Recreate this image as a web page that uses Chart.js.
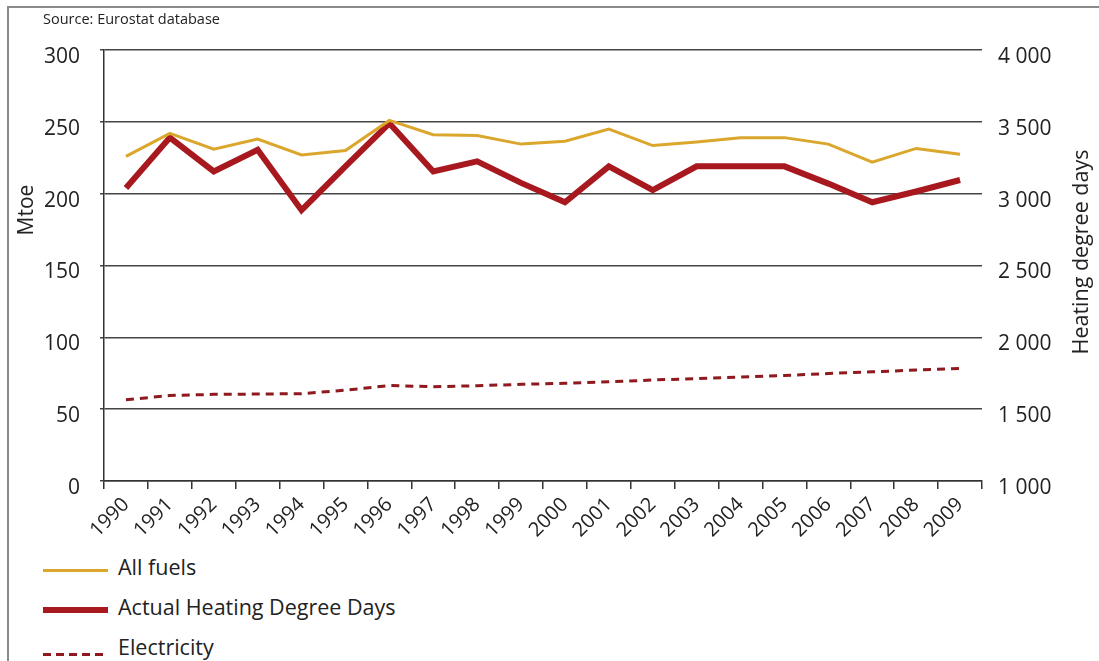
<!DOCTYPE html>
<html>
<head>
<meta charset="utf-8">
<script src="https://cdn.jsdelivr.net/npm/chart.js@4.4.1/dist/chart.umd.min.js"></script>
<style>
  body { margin: 0; background: #fff; font-family: "Open Sans", sans-serif; }
  #marco { position: absolute; left: 7px; top: 6px; width: 1092px; height: 655px;
           border-left: 2px solid #8a8a8a; border-top: 2px solid #8a8a8a; }
  #lienzo { position: absolute; left: 0; top: 0; }
  .fila { position: absolute; left: 43px; height: 26px; font-size: 21.5px; color: #222; }
  .muestra { position: absolute; left: 0; width: 65px; }
  .texto { position: absolute; left: 75px; top: 0; white-space: nowrap; line-height: 26px; }
</style>
</head>
<body>
<div id="marco"></div>
<canvas id="lienzo" width="1099" height="545"></canvas>
<div id="leyenda"></div>
<script>
// Datos
const anios = ['1990','1991','1992','1993','1994','1995','1996','1997','1998','1999',
               '2000','2001','2002','2003','2004','2005','2006','2007','2008','2009'];
const todosCombustibles = [226, 242, 231, 238, 227, 230, 251, 241, 240.5, 234.5,
                           236.5, 245, 233.5, 236, 239, 239, 234.5, 222, 231.5, 227.5];
const gradosDia = [3040, 3390, 3155, 3305, 2885, 3190, 3490, 3155, 3225, 3075,
                   2940, 3190, 3025, 3190, 3190, 3190, 3070, 2940, 3015, 3095];
const electricidad = [56.5, 59.5, 60.3, 60.5, 60.8, 63.2, 66.5, 65.6, 66.3, 67.3,
                      68, 69, 70.3, 71.3, 72.3, 73.4, 74.8, 76, 77.2, 78.3];
const nombresSeries = ['All fuels', 'Actual Heating Degree Days', 'Electricity'];
const ticksIzq = [0, 50, 100, 150, 200, 250, 300];
const ticksDer = [1000, 1500, 2000, 2500, 3000, 3500, 4000];

const AMARILLO = '#dba62c';
const ROJO = '#a8191f';
const ROJO_OSCURO = '#8e1a1f';

// Textos fijos (fuente y títulos de ejes)
const textosExtra = {
    id: 'textosExtra',
    afterDraw(chart) {
        const c = chart.ctx;
        c.save();
        c.fillStyle = '#222';
        c.font = '14.5px "Open Sans"';
        c.textBaseline = 'middle';
        c.fillText('Source: Eurostat database', 43, 20);
        c.font = '21px "Open Sans"';
        c.textAlign = 'center';
        c.translate(27, 210);
        c.rotate(-Math.PI / 2);
        c.fillText('Mtoe', 0, 0);
        c.restore();
        c.save();
        c.fillStyle = '#222';
        c.font = '21.5px "Open Sans"';
        c.textAlign = 'center';
        c.textBaseline = 'middle';
        c.translate(1082, 252);
        c.rotate(-Math.PI / 2);
        c.fillText('Heating degree days', 0, 0);
        c.restore();
    }
};

const ctx = document.getElementById('lienzo').getContext('2d');
const grafico = new Chart(ctx, {
    type: 'line',
    data: {
        labels: anios,
        datasets: [{
            label: nombresSeries[0],
            data: todosCombustibles,
            borderColor: AMARILLO,
            borderWidth: 3,
            yAxisID: 'y'
        }, {
            label: nombresSeries[1],
            data: gradosDia,
            borderColor: ROJO,
            borderWidth: 6,
            yAxisID: 'y1'
        }, {
            label: nombresSeries[2],
            data: electricidad,
            borderColor: ROJO_OSCURO,
            borderWidth: 3,
            borderDash: [8, 6],
            yAxisID: 'y'
        }]
    },
    options: {
        responsive: false,
        animation: false,
        layout: { padding: { top: 50, left: 0, right: 0, bottom: 0 } },
        elements: { point: { radius: 0 }, line: { tension: 0, borderJoinStyle: 'miter' } },
        plugins: { legend: { display: false }, tooltip: { enabled: false } },
        scales: {
            x: {
                offset: true,
                grid: { offset: true, drawOnChartArea: false, tickLength: 8, color: '#333', lineWidth: 1.5 },
                border: { color: '#333', width: 1.5 },
                ticks: { minRotation: 45, maxRotation: 45, padding: 4, color: '#222',
                         font: { family: 'Open Sans', size: 20 } },
                afterFit: s => { s.height = 545 - 481; }
            },
            y: {
                position: 'left',
                min: 0, max: 300,
                afterBuildTicks: s => { s.ticks = ticksIzq.map(v => ({ value: v })); },
                grid: { color: '#444', lineWidth: 1.5, tickLength: 4 },
                border: { color: '#333', width: 1.5 },
                ticks: { padding: 20, labelOffset: 7, color: '#222', font: { family: 'Open Sans', size: 21 } },
                afterFit: s => { s.width = 104; }
            },
            y1: {
                position: 'right',
                min: 1000, max: 4000,
                afterBuildTicks: s => { s.ticks = ticksDer.map(v => ({ value: v })); },
                grid: { display: false, drawTicks: false },
                border: { display: false },
                ticks: {
                    padding: 16, labelOffset: 7, color: '#222', font: { family: 'Open Sans', size: 21 },
                    callback: v => String(v).replace(/\B(?=(\d{3})+(?!\d))/g, ' ')
                },
                afterFit: s => { s.width = 1099 - 982; }
            }
        }
    },
    plugins: [textosExtra]
});

// Leyenda en HTML, una serie por fila
const estilosMuestra = [
    'top:15px;height:3px;background:' + AMARILLO,
    'top:13px;height:6px;background:' + ROJO,
    'top:19px;height:3px;background:repeating-linear-gradient(90deg,' + ROJO_OSCURO + ' 0 8px,transparent 8px 13px)'
];
const leyenda = document.getElementById('leyenda');
nombresSeries.forEach((nombre, i) => {
    const fila = document.createElement('div');
    fila.className = 'fila';
    fila.style.top = (554 + i * 40) + 'px';
    fila.innerHTML = '<div class="muestra" style="' + estilosMuestra[i] + '"></div>' +
                     '<div class="texto">' + nombre + '</div>';
    leyenda.appendChild(fila);
});
</script>
</body>
</html>
